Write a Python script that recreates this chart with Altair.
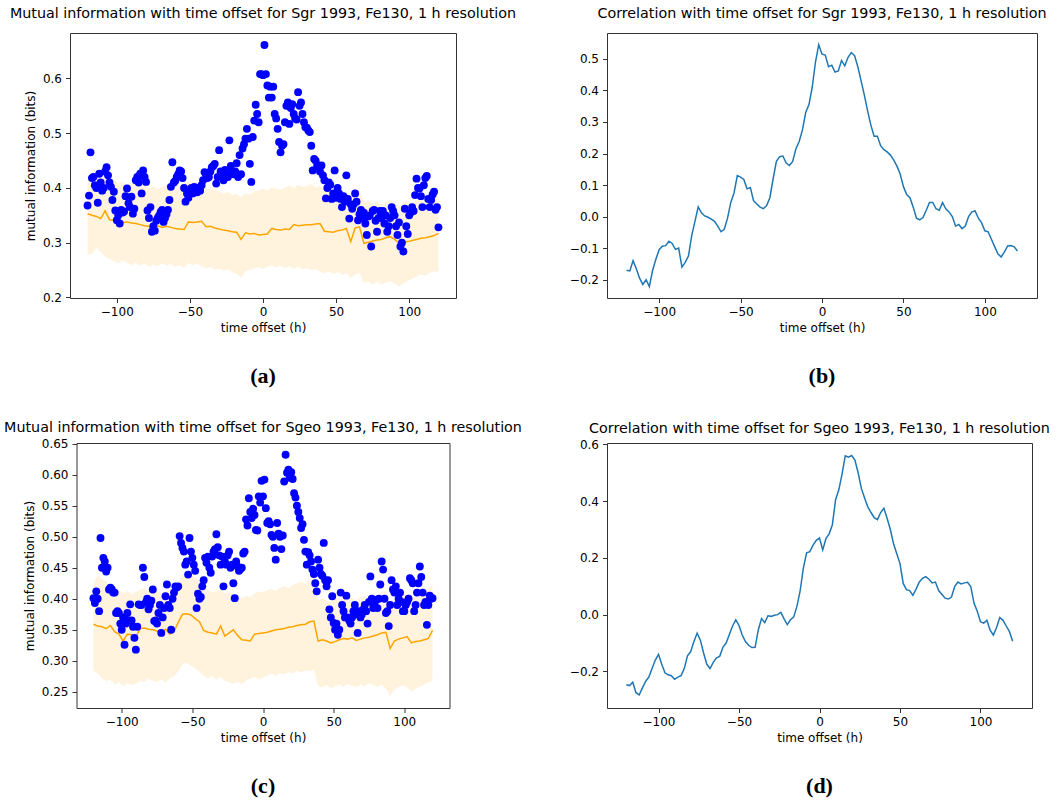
import altair as alt
import pandas as pd

# ---------------- data ----------------
hours = list(range(-120, 121))        # 1 h grid for MI points
hours3 = list(range(-120, 121, 3))    # grid for surrogate mean / band
hours2 = list(range(-120, 121, 2))    # grid for correlation curves

mi_sgr = [
    0.368, 0.386, 0.465, 0.418, 0.420, 0.405, 0.400, 0.373, 0.426, 0.410,
    0.395, 0.400, 0.430, 0.438, 0.423, 0.410, 0.402, 0.378, 0.393, 0.359,
    0.341, 0.350, 0.335, 0.360, 0.355, 0.357, 0.385, 0.399, 0.372, 0.365,
    0.384, 0.353, 0.362, 0.414, 0.420, 0.410, 0.426, 0.390, 0.432, 0.420,
    0.411, 0.359, 0.345, 0.365, 0.320, 0.330, 0.322, 0.340, 0.345, 0.350,
    0.356, 0.360, 0.338, 0.345, 0.352, 0.360, 0.378, 0.402, 0.447, 0.410,
    0.413, 0.420, 0.425, 0.432, 0.430, 0.418, 0.400, 0.375, 0.390, 0.382,
    0.395, 0.400, 0.390, 0.402, 0.396, 0.392, 0.400, 0.395, 0.405, 0.414,
    0.429, 0.425, 0.418, 0.420, 0.430, 0.438, 0.440, 0.444, 0.408, 0.420,
    0.469, 0.430, 0.426, 0.414, 0.433, 0.425, 0.420, 0.487, 0.440, 0.430,
    0.425, 0.430, 0.445, 0.420, 0.460, 0.425, 0.472, 0.480, 0.490, 0.508,
    0.490, 0.444, 0.411, 0.493, 0.523, 0.552, 0.535, 0.520, 0.608, 0.608,
    0.606, 0.661, 0.608, 0.587, 0.565, 0.585, 0.565, 0.585, 0.535, 0.527,
    0.508, 0.484, 0.465, 0.477, 0.480, 0.520, 0.550, 0.556, 0.517, 0.546,
    0.553, 0.535, 0.527, 0.525, 0.575, 0.550, 0.556, 0.535, 0.520, 0.511,
    0.510, 0.505, 0.502, 0.477, 0.432, 0.453, 0.450, 0.440, 0.441, 0.430,
    0.441, 0.423, 0.414, 0.381, 0.400, 0.410, 0.406, 0.380, 0.390, 0.432,
    0.382, 0.400, 0.390, 0.380, 0.365, 0.385, 0.375, 0.423, 0.380, 0.344,
    0.370, 0.362, 0.370, 0.390, 0.375, 0.341, 0.352, 0.360, 0.345, 0.355,
    0.335, 0.314, 0.348, 0.350, 0.293, 0.358, 0.360, 0.340, 0.320, 0.345,
    0.358, 0.345, 0.358, 0.335, 0.350, 0.320, 0.330, 0.345, 0.365, 0.358,
    0.350, 0.330, 0.314, 0.337, 0.293, 0.300, 0.284, 0.362, 0.330, 0.316,
    0.350, 0.355, 0.365, 0.358, 0.387, 0.417, 0.400, 0.399, 0.385, 0.365,
    0.405, 0.418, 0.422, 0.380, 0.365, 0.378, 0.388, 0.393, 0.360, 0.365,
    0.328,
]
sgr_mean = [
    0.353, 0.350, 0.348, 0.344, 0.358, 0.342, 0.341, 0.339, 0.337,
    0.338, 0.336, 0.335, 0.333, 0.331, 0.330, 0.327, 0.331, 0.328,
    0.330, 0.328, 0.326, 0.325, 0.324, 0.338, 0.337, 0.338, 0.339,
    0.329, 0.330, 0.327, 0.325, 0.323, 0.322, 0.320, 0.319, 0.306,
    0.318, 0.316, 0.317, 0.314, 0.315, 0.316, 0.326, 0.324, 0.323,
    0.325, 0.324, 0.333, 0.331, 0.332, 0.333, 0.333, 0.334, 0.335,
    0.321, 0.320, 0.319, 0.322, 0.323, 0.326, 0.302, 0.327, 0.329,
    0.299, 0.301, 0.303, 0.305, 0.306, 0.309, 0.311, 0.306, 0.299,
    0.301, 0.302, 0.304, 0.306, 0.308, 0.309, 0.311, 0.313, 0.317,
]
sgr_hi = [
    0.418, 0.415, 0.422, 0.427, 0.420, 0.412, 0.415, 0.408, 0.411,
    0.405, 0.410, 0.407, 0.402, 0.406, 0.399, 0.403, 0.398, 0.402,
    0.405, 0.410, 0.408, 0.404, 0.406, 0.412, 0.409, 0.411, 0.405,
    0.401, 0.397, 0.399, 0.394, 0.390, 0.393, 0.387, 0.389, 0.383,
    0.391, 0.388, 0.393, 0.396, 0.399, 0.396, 0.401, 0.399, 0.397,
    0.401, 0.405, 0.400, 0.406, 0.402, 0.404, 0.407, 0.401, 0.404,
    0.396, 0.398, 0.392, 0.395, 0.390, 0.394, 0.384, 0.396, 0.399,
    0.373, 0.377, 0.372, 0.376, 0.370, 0.374, 0.378, 0.373, 0.368,
    0.372, 0.376, 0.373, 0.378, 0.381, 0.377, 0.382, 0.385, 0.387,
]
sgr_lo = [
    0.278, 0.280, 0.290, 0.283, 0.275, 0.270, 0.266, 0.262, 0.268,
    0.263, 0.259, 0.264, 0.258, 0.262, 0.256, 0.260, 0.257, 0.262,
    0.258, 0.261, 0.256, 0.259, 0.254, 0.263, 0.259, 0.262, 0.257,
    0.253, 0.256, 0.250, 0.253, 0.249, 0.251, 0.246, 0.243, 0.236,
    0.247, 0.250, 0.253, 0.255, 0.252, 0.256, 0.259, 0.255, 0.258,
    0.254, 0.257, 0.252, 0.256, 0.251, 0.254, 0.250, 0.252, 0.247,
    0.244, 0.248, 0.243, 0.246, 0.241, 0.244, 0.235, 0.242, 0.245,
    0.226, 0.229, 0.224, 0.228, 0.223, 0.227, 0.230, 0.225, 0.220,
    0.226, 0.230, 0.234, 0.238, 0.242, 0.240, 0.245, 0.248, 0.246,
]
corr_sgr = [
    -0.170, -0.172, -0.140, -0.165, -0.195, -0.215, -0.200, -0.222, -0.170, -0.135, -0.105,
    -0.094, -0.092, -0.078, -0.085, -0.104, -0.100, -0.160, -0.145, -0.125, -0.060, -0.015,
    0.031, 0.012, 0.002, -0.002, -0.008, -0.015, -0.030, -0.048, -0.040, -0.005, 0.045,
    0.075, 0.130, 0.125, 0.118, 0.088, 0.092, 0.050, 0.040, 0.030, 0.025, 0.035,
    0.060, 0.120, 0.175, 0.190, 0.192, 0.170, 0.162, 0.175, 0.215, 0.238, 0.275,
    0.330, 0.355, 0.410, 0.490, 0.545, 0.515, 0.512, 0.475, 0.480, 0.458, 0.462,
    0.495, 0.478, 0.505, 0.520, 0.510, 0.475, 0.430, 0.385, 0.335, 0.290, 0.255,
    0.255, 0.225, 0.212, 0.205, 0.195, 0.180, 0.160, 0.135, 0.095, 0.070, 0.060,
    0.030, -0.005, -0.010, -0.003, 0.020, 0.045, 0.045, 0.025, 0.020, 0.045, 0.025,
    0.015, 0.000, -0.030, -0.025, -0.038, -0.030, 0.000, 0.015, 0.018, -0.005, -0.020,
    -0.045, -0.048, -0.072, -0.095, -0.118, -0.128, -0.112, -0.093, -0.092, -0.096, -0.109,
]

mi_sgeo = [
    0.401, 0.393, 0.412, 0.400, 0.380, 0.498, 0.450, 0.466, 0.460, 0.444,
    0.450, 0.415, 0.418, 0.415, 0.410, 0.410, 0.377, 0.380, 0.377, 0.360,
    0.350, 0.370, 0.326, 0.360, 0.377, 0.365, 0.391, 0.365, 0.355, 0.337,
    0.318, 0.355, 0.391, 0.390, 0.390, 0.450, 0.435, 0.394, 0.400, 0.383,
    0.390, 0.397, 0.415, 0.364, 0.365, 0.360, 0.377, 0.390, 0.345, 0.370,
    0.385, 0.404, 0.423, 0.390, 0.385, 0.350, 0.400, 0.410, 0.420, 0.418,
    0.420, 0.501, 0.490, 0.482, 0.476, 0.455, 0.460, 0.439, 0.498, 0.476,
    0.466, 0.455, 0.445, 0.385, 0.408, 0.400, 0.403, 0.420, 0.430, 0.466,
    0.458, 0.468, 0.450, 0.442, 0.468, 0.476, 0.480, 0.504, 0.483, 0.470,
    0.455, 0.468, 0.420, 0.460, 0.455, 0.470, 0.476, 0.450, 0.455, 0.425,
    0.401, 0.460, 0.452, 0.445, 0.448, 0.450, 0.473, 0.476, 0.528, 0.518,
    0.562, 0.540, 0.530, 0.545, 0.535, 0.511, 0.510, 0.565, 0.555, 0.590,
    0.565, 0.592, 0.546, 0.522, 0.525, 0.520, 0.503, 0.500, 0.482, 0.463,
    0.522, 0.505, 0.500, 0.480, 0.502, 0.589, 0.632, 0.603, 0.608, 0.595,
    0.604, 0.593, 0.570, 0.563, 0.550, 0.540, 0.530, 0.514, 0.520, 0.495,
    0.476, 0.455, 0.475, 0.470, 0.460, 0.447, 0.440, 0.425, 0.412, 0.463,
    0.450, 0.440, 0.437, 0.490, 0.430, 0.420, 0.430, 0.383, 0.370, 0.404,
    0.361, 0.350, 0.360, 0.342, 0.350, 0.410, 0.390, 0.380, 0.370, 0.405,
    0.370, 0.365, 0.360, 0.370, 0.380, 0.390, 0.375, 0.345, 0.380, 0.370,
    0.375, 0.383, 0.390, 0.380, 0.360, 0.395, 0.436, 0.400, 0.385, 0.390,
    0.398, 0.385, 0.400, 0.423, 0.460, 0.447, 0.400, 0.377, 0.380, 0.356,
    0.390, 0.430, 0.415, 0.410, 0.420, 0.390, 0.400, 0.410, 0.395, 0.380,
    0.380, 0.390, 0.395, 0.400, 0.433, 0.430, 0.425, 0.380, 0.390, 0.410,
    0.425, 0.452, 0.435, 0.410, 0.390, 0.395, 0.358, 0.390, 0.405, 0.400,
    0.401,
]
sgeo_mean = [
    0.359, 0.356, 0.355, 0.352, 0.357, 0.347, 0.343, 0.332, 0.343,
    0.342, 0.338, 0.352, 0.353, 0.351, 0.350, 0.348, 0.346, 0.351,
    0.343, 0.347, 0.362, 0.375, 0.376, 0.374, 0.368, 0.363, 0.349,
    0.346, 0.345, 0.343, 0.356, 0.340, 0.345, 0.350, 0.341, 0.334,
    0.333, 0.332, 0.343, 0.344, 0.345, 0.346, 0.348, 0.350, 0.351,
    0.352, 0.354, 0.355, 0.357, 0.358, 0.359, 0.363, 0.364, 0.332,
    0.334, 0.332, 0.329, 0.331, 0.334, 0.336, 0.335, 0.337, 0.333,
    0.335, 0.337, 0.338, 0.340, 0.342, 0.345, 0.346, 0.320, 0.332,
    0.335, 0.337, 0.339, 0.329, 0.331, 0.332, 0.334, 0.336, 0.349,
]
sgeo_hi = [
    0.425, 0.438, 0.432, 0.428, 0.418, 0.421, 0.414, 0.409, 0.413,
    0.407, 0.411, 0.415, 0.417, 0.412, 0.410, 0.414, 0.408, 0.411,
    0.415, 0.418, 0.428, 0.440, 0.437, 0.441, 0.433, 0.430, 0.418,
    0.414, 0.410, 0.412, 0.416, 0.408, 0.411, 0.407, 0.404, 0.401,
    0.405, 0.403, 0.409, 0.412, 0.410, 0.414, 0.416, 0.412, 0.418,
    0.420, 0.417, 0.422, 0.425, 0.428, 0.424, 0.432, 0.434, 0.398,
    0.401, 0.397, 0.395, 0.400, 0.403, 0.399, 0.404, 0.401, 0.398,
    0.403, 0.405, 0.401, 0.407, 0.404, 0.410, 0.412, 0.394, 0.401,
    0.404, 0.410, 0.407, 0.402, 0.406, 0.409, 0.412, 0.418, 0.422,
]
sgeo_lo = [
    0.284, 0.280, 0.272, 0.267, 0.270, 0.262, 0.266, 0.259, 0.264,
    0.261, 0.263, 0.268, 0.266, 0.271, 0.268, 0.266, 0.270, 0.265,
    0.272, 0.275, 0.283, 0.294, 0.297, 0.292, 0.288, 0.282, 0.276,
    0.272, 0.275, 0.270, 0.274, 0.268, 0.265, 0.263, 0.266, 0.262,
    0.268, 0.271, 0.274, 0.270, 0.273, 0.276, 0.279, 0.275, 0.280,
    0.278, 0.282, 0.279, 0.284, 0.281, 0.285, 0.283, 0.286, 0.260,
    0.257, 0.261, 0.256, 0.259, 0.262, 0.258, 0.263, 0.260, 0.257,
    0.262, 0.259, 0.264, 0.261, 0.258, 0.262, 0.255, 0.243, 0.254,
    0.258, 0.261, 0.257, 0.250, 0.255, 0.258, 0.262, 0.265, 0.268,
]
corr_sgeo = [
    -0.247, -0.250, -0.238, -0.275, -0.283, -0.258, -0.235, -0.220, -0.190, -0.160, -0.140,
    -0.175, -0.205, -0.212, -0.215, -0.228, -0.220, -0.215, -0.190, -0.145, -0.130, -0.095,
    -0.065, -0.090, -0.135, -0.175, -0.190, -0.168, -0.152, -0.147, -0.115, -0.100, -0.070,
    -0.040, -0.018, -0.038, -0.072, -0.095, -0.108, -0.116, -0.115, -0.053, -0.014, -0.028,
    -0.004, -0.006, -0.002, 0.000, 0.008, -0.015, -0.035, -0.018, -0.008, 0.030, 0.085,
    0.165, 0.218, 0.222, 0.245, 0.262, 0.270, 0.228, 0.268, 0.285, 0.317, 0.405,
    0.440, 0.495, 0.560, 0.555, 0.561, 0.545, 0.500, 0.445, 0.411, 0.380, 0.360,
    0.342, 0.335, 0.360, 0.375, 0.340, 0.300, 0.250, 0.215, 0.180, 0.110, 0.088,
    0.085, 0.068, 0.090, 0.115, 0.128, 0.134, 0.125, 0.112, 0.115, 0.085, 0.072,
    0.058, 0.055, 0.062, 0.100, 0.115, 0.108, 0.112, 0.114, 0.098, 0.040, 0.012,
    -0.025, -0.030, -0.020, -0.055, -0.072, -0.045, -0.010, -0.020, -0.040, -0.060, -0.094,
]

x_ticks = [-100, -50, 0, 50, 100]
FONT = "DejaVu Sans"
TITLE_SIZE = 14.3


def x_enc():
    return alt.X(
        "h:Q",
        scale=alt.Scale(domain=[-132, 132], nice=False, zero=False),
        axis=alt.Axis(values=x_ticks, format="d", title="time offset (h)",
                      labelFlush=False, labelOverlap=False),
    )


def y_enc(field, dom, ticks, fmt, title):
    return alt.Y(
        field,
        scale=alt.Scale(domain=dom, nice=False, zero=False),
        axis=alt.Axis(values=ticks, format=fmt, title=title,
                      labelFlush=False, labelOverlap=False),
    )


def caption(text, w, h):
    return alt.Chart(pd.DataFrame({"c": [text]})).mark_text(
        font="Liberation Serif", fontWeight="bold", fontSize=22,
        align="center", baseline="middle", color="black",
    ).encode(text="c:N", x=alt.value(w / 2), y=alt.value(h + 78))


def mi_panel(mi, mean, hi, lo, title, dom, ticks, fmt, w, h, cap, toff):
    pts = pd.DataFrame({"h": hours, "mi": mi})
    band = pd.DataFrame({"h": hours3, "mean": mean, "hi": hi, "lo": lo})
    ytitle = "mutual information (bits)"
    area = alt.Chart(band).mark_area(color="orange", opacity=0.13).encode(
        x=x_enc(), y=y_enc("lo:Q", dom, ticks, fmt, ytitle), y2="hi:Q")
    line = alt.Chart(band).mark_line(color="#ffa500", strokeWidth=1.5).encode(
        x=x_enc(), y=y_enc("mean:Q", dom, ticks, fmt, ytitle))
    dots = alt.Chart(pts).mark_circle(color="#0000ff", size=62, opacity=1).encode(
        x=x_enc(), y=y_enc("mi:Q", dom, ticks, fmt, ytitle))
    return alt.layer(area, line, dots, caption(cap, w, h)).properties(
        width=w, height=h,
        title=alt.TitleParams(title, fontSize=TITLE_SIZE, font=FONT, fontWeight="normal",
                              anchor="middle", color="black", offset=toff),
    )


def corr_panel(vals, title, dom, ticks, w, h, cap, toff):
    df = pd.DataFrame({"h": hours2, "r": vals})
    line = alt.Chart(df).mark_line(color="#1f77b4", strokeWidth=1.5).encode(
        x=x_enc(), y=y_enc("r:Q", dom, ticks, ".1f", None))
    return alt.layer(line, caption(cap, w, h)).properties(
        width=w, height=h,
        title=alt.TitleParams(title, fontSize=TITLE_SIZE, font=FONT, fontWeight="normal",
                              anchor="middle", color="black", offset=toff),
    )


pa = mi_panel(mi_sgr, sgr_mean, sgr_hi, sgr_lo,
              "Mutual information with time offset for Sgr 1993, Fe130, 1 h resolution",
              [0.199, 0.683], [0.2, 0.3, 0.4, 0.5, 0.6], ".1f", 386, 265, "(a)", 12)
pb = corr_panel(corr_sgr, "Correlation with time offset for Sgr 1993, Fe130, 1 h resolution",
                [-0.258, 0.582], [-0.2, -0.1, 0.0, 0.1, 0.2, 0.3, 0.4, 0.5], 430, 265, "(b)", 12)
pc = mi_panel(mi_sgeo, sgeo_mean, sgeo_hi, sgeo_lo,
              "Mutual information with time offset for Sgeo 1993, Fe130, 1 h resolution",
              [0.224, 0.651], [0.25, 0.30, 0.35, 0.40, 0.45, 0.50, 0.55, 0.60, 0.65], ".2f",
              373, 265, "(c)", 2)
pd_ = corr_panel(corr_sgeo, "Correlation with time offset for Sgeo 1993, Fe130, 1 h resolution",
                 [-0.329, 0.605], [-0.2, 0.0, 0.2, 0.4, 0.6], 425, 265, "(d)", 2)

chart = alt.concat(
    pa, pb, pc, pd_, columns=2, spacing={"row": 145, "column": 151},
    bounds="flush", center=True,
).properties(
    padding={"left": 3, "top": 6, "right": 2, "bottom": 2},
    background="white",
).configure_view(
    stroke="#333333", strokeWidth=1,
).configure_axis(
    domain=False, grid=False, ticks=True, tickColor="#333333", tickSize=4.5, tickWidth=1,
    labelFont=FONT, titleFont=FONT, labelFontSize=12, titleFontSize=12,
    titleFontWeight="normal", labelColor="black", titleColor="black",
    labelPadding=4, titlePadding=5,
)

chart.save("out.html", embed_options={"renderer": "svg", "actions": False})
